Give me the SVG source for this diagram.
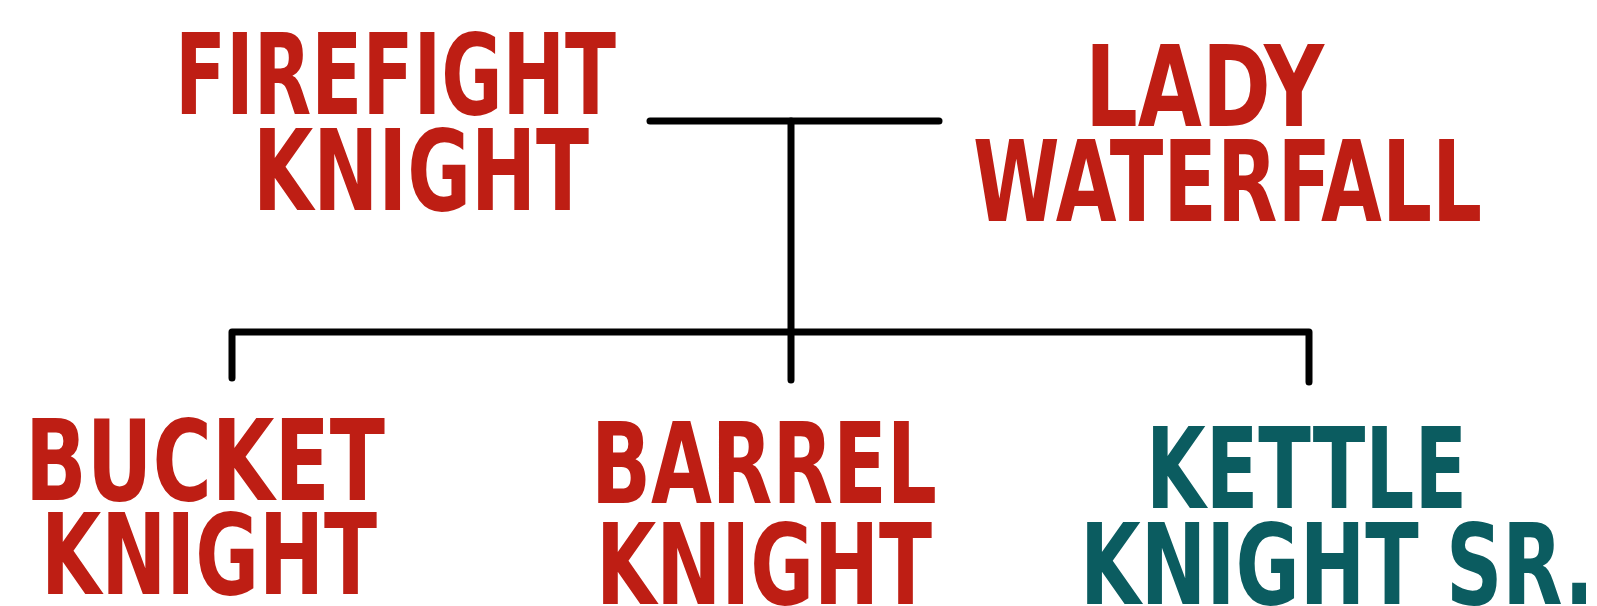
<svg xmlns="http://www.w3.org/2000/svg" width="1597" height="606" viewBox="0 0 1597 606">
<style>
.t{font-family:"Liberation Sans Narrow","DejaVu Sans Condensed","Liberation Sans",sans-serif;font-weight:bold;font-size:112px;}
.red{fill:#BE1E14;}
.teal{fill:#0B5C60;}
.c{fill:none;stroke:#000;stroke-width:7;stroke-linecap:round;stroke-linejoin:round;}
</style>
<rect width="1597" height="606" fill="#fff"/>
<g id="connectors">
<path class="c" d="M650 121 H939"/>
<path class="c" d="M791 121 V332"/>
<path class="c" d="M232 378 V332 H1309 V382"/>
<path class="c" d="M791 332 V380"/>
</g>
<g id="firefight-knight">
<text class="t red" x="175" y="114" textLength="441" lengthAdjust="spacingAndGlyphs">FIREFIGHT</text>
<text class="t red" x="253" y="210" textLength="336" lengthAdjust="spacingAndGlyphs">KNIGHT</text>
</g>
<g id="lady-waterfall">
<text class="t red" x="1085" y="126" textLength="239" lengthAdjust="spacingAndGlyphs">LADY</text>
<text class="t red" x="973" y="221" textLength="509" lengthAdjust="spacingAndGlyphs">WATERFALL</text>
</g>
<g id="bucket-knight">
<text class="t red" x="25" y="500" textLength="360" lengthAdjust="spacingAndGlyphs">BUCKET</text>
<text class="t red" x="41" y="594" textLength="336" lengthAdjust="spacingAndGlyphs">KNIGHT</text>
</g>
<g id="barrel-knight">
<text class="t red" x="591" y="503" textLength="346" lengthAdjust="spacingAndGlyphs">BARREL</text>
<text class="t red" x="596" y="604" textLength="336" lengthAdjust="spacingAndGlyphs">KNIGHT</text>
</g>
<g id="kettle-knight-sr">
<text class="t teal" x="1146" y="508" textLength="321" lengthAdjust="spacingAndGlyphs">KETTLE</text>
<text class="t teal" x="1080" y="604" textLength="514" lengthAdjust="spacingAndGlyphs">KNIGHT SR.</text>
</g>
</svg>
